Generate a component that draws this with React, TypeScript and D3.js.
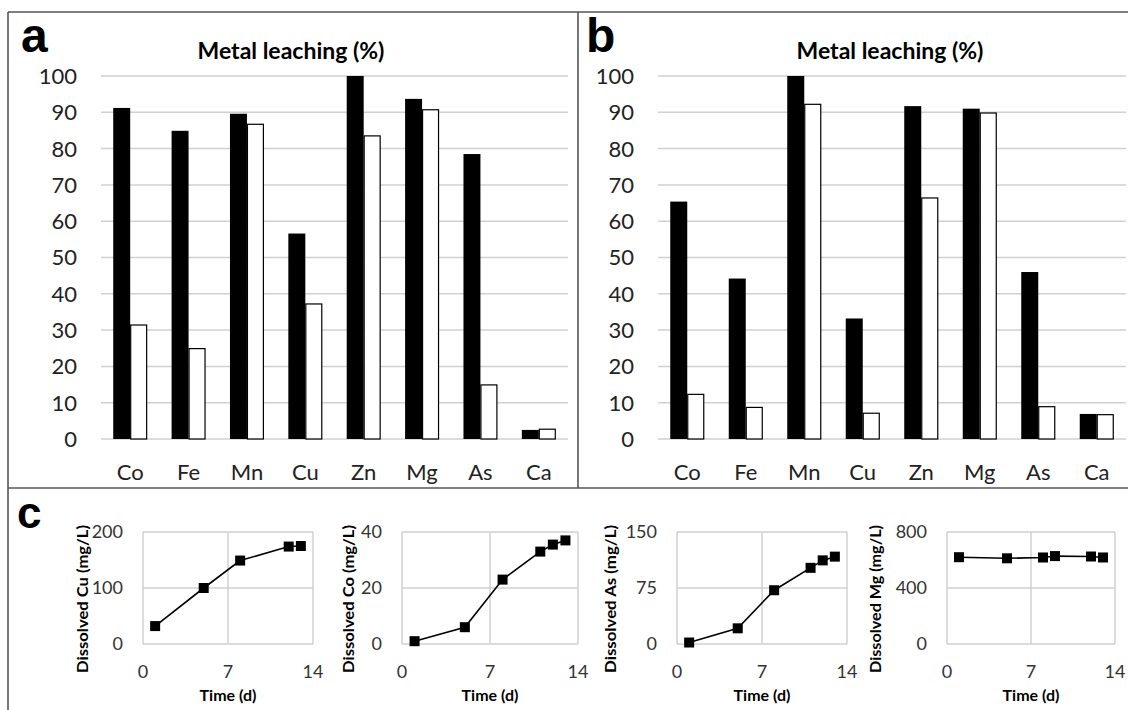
import React from 'react';
import * as d3 from 'd3';

// leaching percentages
const metals = ['Co', 'Fe', 'Mn', 'Cu', 'Zn', 'Mg', 'As', 'Ca'];
const leachA_black = [91.2, 84.9, 89.6, 56.6, 100, 93.7, 78.5, 2.5];
const leachA_white = [31.4, 24.9, 86.7, 37.2, 83.5, 90.7, 14.9, 2.7];
const leachB_black = [65.4, 44.2, 100, 33.2, 91.7, 91.0, 46.0, 6.9];
const leachB_white = [12.3, 8.7, 92.2, 7.1, 66.4, 89.8, 8.9, 6.7];
const percentTicks = [0, 10, 20, 30, 40, 50, 60, 70, 80, 90, 100];

// dissolved metal vs time
const timeTicks = [0, 7, 14];
const cuDays = [1, 5, 8, 12, 13];
const cuConc = [32, 100, 149, 174, 175];
const cuTicks = [0, 100, 200];
const coDays = [1, 5, 8, 11, 12, 13];
const coConc = [1, 6, 23, 33, 35.5, 37];
const coTicks = [0, 20, 40];
const asDays = [1, 5, 8, 11, 12, 13];
const asConc = [2, 21, 72, 102, 112, 117];
const asTicks = [0, 75, 150];
const mgDays = [1, 5, 8, 9, 12, 13];
const mgConc = [620, 612, 618, 628, 625, 618];
const mgTicks = [0, 400, 800];

const FONT = 'Lato, "Open Sans", sans-serif';
const LETTER_FONT = '"Liberation Sans", Arial, sans-serif';
const GRID = '#d0d0d0';
const FRAME = '#555';

const BarPanel = ({ letter, letterX, x0, x1, labelRight, titleX, black, white }) => {
  const top = 76;
  const bottom = 439;
  const x = d3.scaleBand().domain(metals).range([x0, x1]);
  const sub = d3.scaleBand().domain(['black', 'white']).range([0, x.bandwidth()]).paddingOuter(0.72);
  const y = d3.scaleLinear().domain([0, 100]).range([bottom, top]);

  return (
    <g>
      <text x={letterX} y={52} fontFamily={LETTER_FONT} fontWeight="bold" fontSize={48}>{letter}</text>
      <text x={titleX} y={59} textAnchor="middle" fontFamily={FONT} fontWeight="bold" fontSize={23}>
        Metal leaching (%)
      </text>
      {percentTicks.map(t => (
        <g key={t}>
          <line x1={x0} x2={x1} y1={y(t)} y2={y(t)} stroke={GRID} strokeWidth={1.5} />
          <text x={labelRight} y={y(t)} dy="0.36em" textAnchor="end" fontFamily={FONT} fontSize={22} fill="#222">{t}</text>
        </g>
      ))}
      {metals.map((m, i) => (
        <g key={m} transform={`translate(${x(m)},0)`}>
          <rect x={sub('black')} y={y(black[i])} width={sub.bandwidth()} height={bottom - y(black[i])} fill="#000" />
          <rect x={sub('white') + 0.5} y={y(white[i])} width={sub.bandwidth() - 1} height={bottom - y(white[i])}
            fill="#fff" stroke="#000" strokeWidth={1.2} />
          <text x={x.bandwidth() / 2} y={472} dy="0.36em" textAnchor="middle" fontFamily={FONT} fontSize={22} fill="#222">{m}</text>
        </g>
      ))}
    </g>
  );
};

const LinePanel = ({ metal, days, conc, ticks, left, right, titleX }) => {
  const top = 532;
  const bottom = 644;
  const x = d3.scaleLinear().domain([0, 14]).range([left, right]);
  const y = d3.scaleLinear().domain([0, ticks[ticks.length - 1]]).range([bottom, top]);
  const pts = days.map((d, i) => [d, conc[i]]);
  const line = d3.line().x(d => x(d[0])).y(d => y(d[1]));
  const ms = 10;

  return (
    <g>
      {ticks.map(t => (
        <g key={t}>
          <line x1={left} x2={right} y1={y(t)} y2={y(t)} stroke={GRID} strokeWidth={1.5} />
          <text x={left - 20} y={y(t)} dy="0.36em" textAnchor="end" fontFamily={FONT} fontSize={18} fill="#333">{t}</text>
        </g>
      ))}
      {timeTicks.map(t => (
        <g key={t}>
          <line x1={x(t)} x2={x(t)} y1={top} y2={bottom} stroke={GRID} strokeWidth={1.5} />
          <text x={x(t)} y={672} dy="0.36em" textAnchor="middle" fontFamily={FONT} fontSize={18} fill="#333">{t}</text>
        </g>
      ))}
      <path d={line(pts)} fill="none" stroke="#000" strokeWidth={1.6} />
      {pts.map((p, i) => (
        <rect key={i} x={x(p[0]) - ms / 2} y={y(p[1]) - ms / 2} width={ms} height={ms} fill="#000" />
      ))}
      <text x={(left + right) / 2} y={695} dy="0.36em" textAnchor="middle" fontFamily={FONT} fontWeight="bold" fontSize={16}>
        Time (d)
      </text>
      <text transform={`translate(${titleX},599) rotate(-90)`} dy="0.36em" textAnchor="middle" fontFamily={FONT}
        fontWeight="bold" fontSize={15.5} textLength={148} lengthAdjust="spacingAndGlyphs">
        {`Dissolved ${metal} (mg/L)`}
      </text>
    </g>
  );
};

export default function App() {
  return (
    <svg width={1128} height={710} style={{ position: 'absolute', left: 0, top: 0, background: '#fff' }}>
      <rect width={1128} height={710} fill="#fff" />
      <line x1={8} x2={1128} y1={12} y2={12} stroke={FRAME} strokeWidth={1.6} />
      <line x1={8} x2={8} y1={12} y2={710} stroke={FRAME} strokeWidth={1.6} />
      <line x1={578} x2={578} y1={12} y2={488} stroke={FRAME} strokeWidth={1.6} />
      <line x1={8} x2={1128} y1={488} y2={488} stroke={FRAME} strokeWidth={1.6} />

      <BarPanel letter="a" letterX={21} x0={101} x1={568} labelRight={77} titleX={291}
        black={leachA_black} white={leachA_white} />
      <BarPanel letter="b" letterX={586} x0={658} x1={1126} labelRight={634} titleX={890}
        black={leachB_black} white={leachB_white} />

      <text x={17} y={528} fontFamily={LETTER_FONT} fontWeight="bold" fontSize={44}>c</text>
      <LinePanel metal="Cu" days={cuDays} conc={cuConc} ticks={cuTicks} left={143} right={313} titleX={82} />
      <LinePanel metal="Co" days={coDays} conc={coConc} ticks={coTicks} left={402} right={578} titleX={348} />
      <LinePanel metal="As" days={asDays} conc={asConc} ticks={asTicks} left={677} right={847} titleX={610} />
      <LinePanel metal="Mg" days={mgDays} conc={mgConc} ticks={mgTicks} left={947} right={1115} titleX={875} />
    </svg>
  );
}
